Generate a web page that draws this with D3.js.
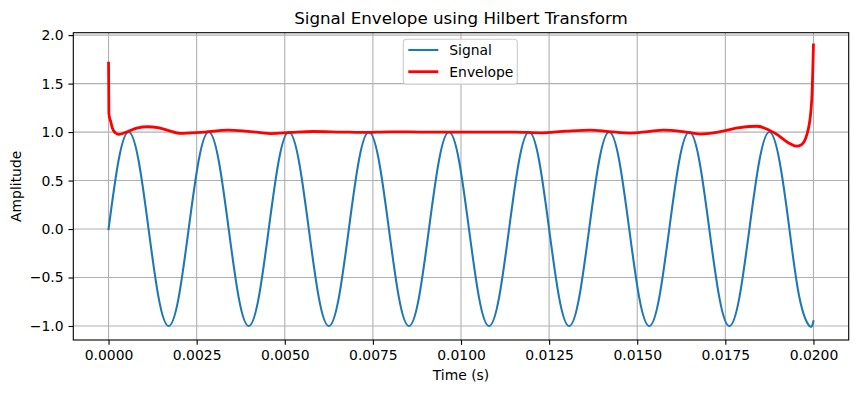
<!DOCTYPE html>
<html>
<head>
<meta charset="utf-8">
<script src="https://cdn.jsdelivr.net/npm/d3@7"></script>
<style>
  body { margin: 0; background: #fff; }
  svg { display: block; font-family: 'DejaVu Sans', sans-serif; }
</style>
</head>
<body>
<svg id="chart"></svg>
<script>
const width = 857
const height = 393
const margin = { top: 32.7, right: 8.3, bottom: 53, left: 73.3 }

// signal samples (eighth-period spacing)
const signalTime = [
  0, 0.000284, 0.000568, 0.000852, 0.001136, 0.00142, 0.001705, 0.001989,
  0.002273, 0.002557, 0.002841, 0.003125, 0.003409, 0.003693, 0.003977, 0.004261,
  0.004545, 0.00483, 0.005114, 0.005398, 0.005682, 0.005966, 0.00625, 0.006534,
  0.006818, 0.007102, 0.007386, 0.00767, 0.007955, 0.008239, 0.008523, 0.008807,
  0.009091, 0.009375, 0.009659, 0.009943, 0.010227, 0.010511, 0.010795, 0.01108,
  0.011364, 0.011648, 0.011932, 0.012216, 0.0125, 0.012784, 0.013068, 0.013352,
  0.013636, 0.01392, 0.014205, 0.014489, 0.014773, 0.015057, 0.015341, 0.015625,
  0.015909, 0.016193, 0.016477, 0.016761, 0.017045, 0.01733, 0.017614, 0.017898,
  0.018182, 0.018466, 0.01875, 0.019034, 0.019318, 0.019602, 0.019886, 0.02
]
const signalValue = [
  0, 0.707, 1, 0.707, 0, -0.707, -1, -0.707,
  0, 0.707, 1, 0.707, 0, -0.707, -1, -0.707,
  0, 0.707, 1, 0.707, 0, -0.707, -1, -0.707,
  0, 0.707, 1, 0.707, 0, -0.707, -1, -0.707,
  0, 0.707, 1, 0.707, 0, -0.707, -1, -0.707,
  0, 0.707, 1, 0.707, 0, -0.707, -1, -0.707,
  0, 0.707, 1, 0.707, 0, -0.707, -1, -0.707,
  0, 0.707, 1, 0.707, 0, -0.707, -1, -0.707,
  0, 0.707, 1, 0.707, 0, -0.707, -1, -0.951
]

// envelope
const envelopeTime = [
  0, 0.00001, 0.00006, 0.00011, 0.0002, 0.00029, 0.00053, 0.0008, 0.0011, 0.0014,
  0.00166, 0.00204, 0.00261, 0.0034, 0.0039, 0.0046, 0.0052, 0.0058, 0.0066, 0.0072,
  0.008, 0.009, 0.0105, 0.0115, 0.01225, 0.013, 0.01367, 0.0142, 0.0148, 0.0153,
  0.01574, 0.0163, 0.01679, 0.0173, 0.0179, 0.0184, 0.0189, 0.01934, 0.01952, 0.01966,
  0.01981, 0.019926, 0.019963, 0.019983, 0.02
]
const envelopeValue = [
  1.71, 1.19, 1.11, 1.04, 0.99, 0.976, 1.004, 1.04, 1.055, 1.045,
  1.02, 0.987, 0.997, 1.02, 1.01, 0.985, 0.997, 1.006, 1.0, 0.996,
  1.002, 1.0, 1.0, 1.0, 0.992, 1.01, 1.02, 1.005, 0.99, 1.005,
  1.02, 1.005, 0.98, 1.0, 1.045, 1.06, 0.99, 0.88, 0.855, 0.87,
  0.97, 1.21, 1.42, 1.66, 1.9
]

const xTicks = [0, 0.0025, 0.005, 0.0075, 0.01, 0.0125, 0.015, 0.0175, 0.02]
const yTicks = [-1, -0.5, 0, 0.5, 1, 1.5, 2]

const signal = signalTime.map((t, i) => ({ t, v: signalValue[i] }))
const envelope = envelopeTime.map((t, i) => ({ t, v: envelopeValue[i] }))

const svg = d3.select('#chart').attr('width', width).attr('height', height)

const x = d3.scaleLinear().domain([-0.001, 0.021]).range([margin.left, width - margin.right])
const y = d3.scaleLinear().domain([-1.1445, 2.025]).range([height - margin.bottom, margin.top])

const plotW = width - margin.left - margin.right
const plotH = height - margin.top - margin.bottom
const tickLen = 4.86

// grid
svg.append('g')
  .selectAll('line')
  .data(xTicks)
  .join('line')
  .attr('x1', (d) => x(d)).attr('x2', (d) => x(d))
  .attr('y1', margin.top).attr('y2', height - margin.bottom)
  .attr('stroke', '#b0b0b0').attr('stroke-width', 1.1)

svg.append('g')
  .selectAll('line')
  .data(yTicks)
  .join('line')
  .attr('x1', margin.left).attr('x2', width - margin.right)
  .attr('y1', (d) => y(d)).attr('y2', (d) => y(d))
  .attr('stroke', '#b0b0b0').attr('stroke-width', 1.1)

svg.append('clipPath').attr('id', 'clip')
  .append('rect')
  .attr('x', margin.left).attr('y', margin.top)
  .attr('width', plotW).attr('height', plotH)

const plot = svg.append('g').attr('clip-path', 'url(#clip)')

const signalLine = d3.line()
  .x((d) => x(d.t))
  .y((d) => y(d.v))
  .curve(d3.curveNatural)

const envelopeLine = d3.line()
  .x((d) => x(d.t))
  .y((d) => y(d.v))
  .curve(d3.curveMonotoneX)

plot.append('path')
  .datum(signal)
  .attr('d', signalLine)
  .attr('fill', 'none')
  .attr('stroke', '#1f77b4')
  .attr('stroke-width', 2.08)
  .attr('stroke-linecap', 'square')

plot.append('path')
  .datum(envelope)
  .attr('d', envelopeLine)
  .attr('fill', 'none')
  .attr('stroke', '#ff0000')
  .attr('stroke-width', 2.78)
  .attr('stroke-linecap', 'square')

// axes
const xAxis = d3.axisBottom(x)
  .tickValues(xTicks)
  .tickFormat(d3.format('.4f'))
  .tickSizeInner(tickLen)
  .tickSizeOuter(0)
  .tickPadding(4.86)

const yAxis = d3.axisLeft(y)
  .tickValues(yTicks)
  .tickFormat(d3.format('.1f'))
  .tickSizeInner(tickLen)
  .tickSizeOuter(0)
  .tickPadding(4.86)

const gx = svg.append('g')
  .attr('transform', `translate(0,${height - margin.bottom})`)
  .call(xAxis)
const gy = svg.append('g')
  .attr('transform', `translate(${margin.left},0)`)
  .call(yAxis)

for (const g of [gx, gy]) {
  g.select('.domain').remove()
  g.selectAll('.tick line').attr('stroke', '#000').attr('stroke-width', 1.1)
  g.selectAll('.tick text')
    .attr('fill', '#000')
    .style('font-size', '13.9px')
    .style('font-family', "'DejaVu Sans', sans-serif")
}

// spines
svg.append('rect')
  .attr('x', margin.left).attr('y', margin.top)
  .attr('width', plotW).attr('height', plotH)
  .attr('fill', 'none')
  .attr('stroke', '#000')
  .attr('stroke-width', 1.1)

// labels
svg.append('text')
  .attr('x', margin.left + plotW / 2)
  .attr('y', 24.3)
  .attr('text-anchor', 'middle')
  .style('font-size', '16.7px')
  .text('Signal Envelope using Hilbert Transform')

svg.append('text')
  .attr('x', margin.left + plotW / 2)
  .attr('y', 380)
  .attr('text-anchor', 'middle')
  .style('font-size', '13.9px')
  .text('Time (s)')

svg.append('text')
  .attr('transform', `translate(21,${margin.top + plotH / 2}) rotate(-90)`)
  .attr('text-anchor', 'middle')
  .style('font-size', '13.9px')
  .text('Amplitude')

// legend
const legendItems = [
  { name: 'Signal', color: '#1f77b4', width: 2.08 },
  { name: 'Envelope', color: '#ff0000', width: 2.78 },
]

const legend = svg.append('g').attr('transform', 'translate(403.3,39.3)')

legend.append('rect')
  .attr('width', 114).attr('height', 45)
  .attr('rx', 3).attr('ry', 3)
  .attr('fill', '#fff').attr('fill-opacity', 0.8)
  .attr('stroke', '#cccccc').attr('stroke-width', 1.1)

const item = legend.selectAll('g.item')
  .data(legendItems)
  .join('g')
  .attr('class', 'item')
  .attr('transform', (d, i) => `translate(0,${10.7 + i * 21.7})`)

item.append('line')
  .attr('x1', 5).attr('x2', 35)
  .attr('stroke', (d) => d.color)
  .attr('stroke-width', (d) => d.width)

item.append('text')
  .attr('x', 46)
  .attr('y', 4.9)
  .style('font-size', '13.9px')
  .text((d) => d.name)
</script>
</body>
</html>
